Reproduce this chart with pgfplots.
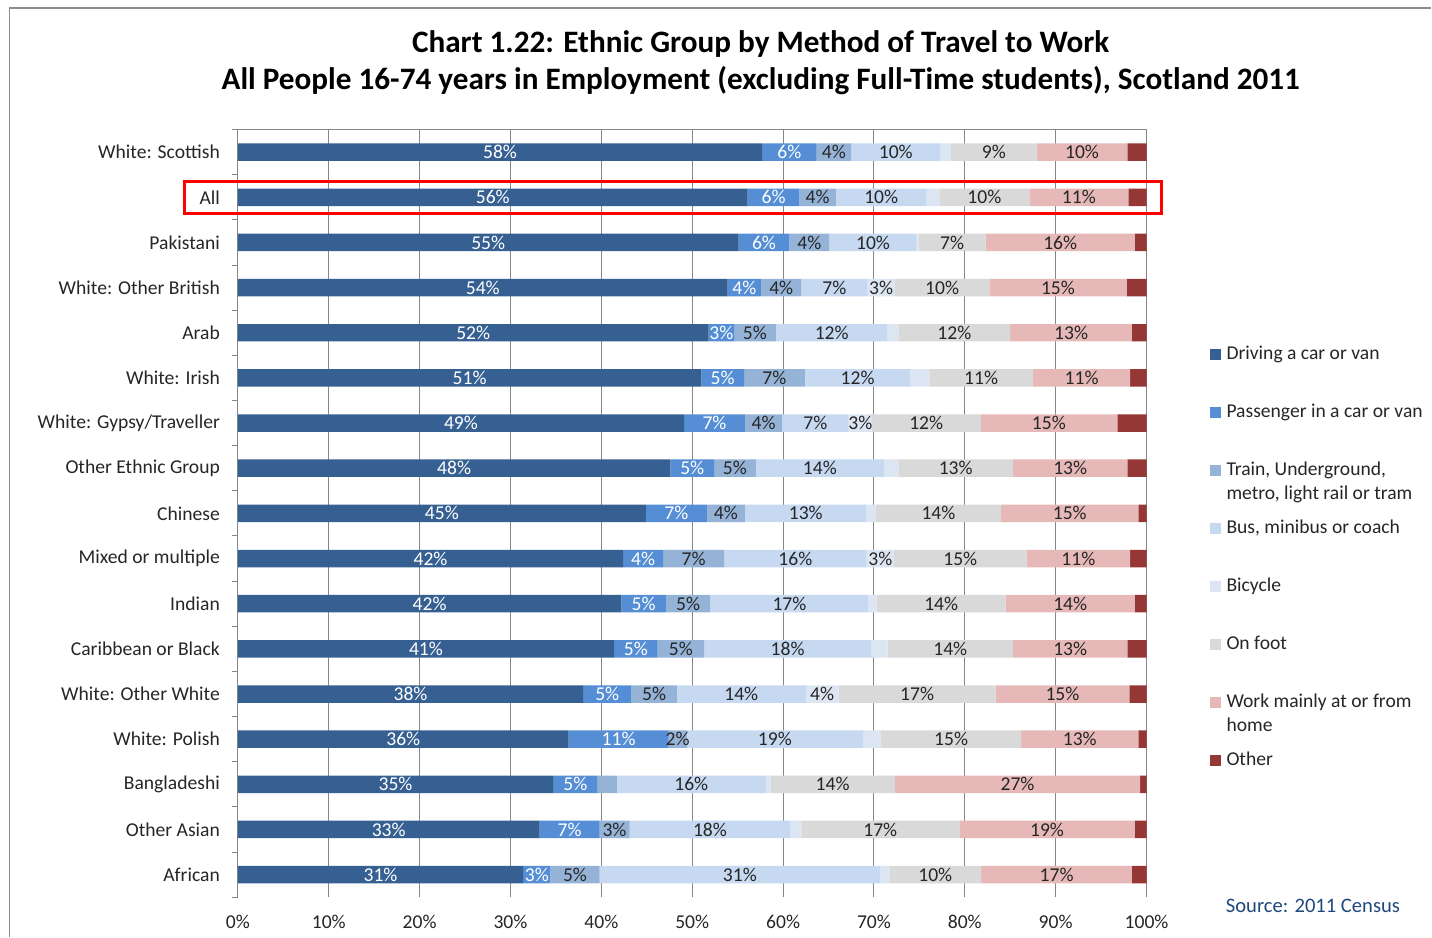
\documentclass[border=0pt]{standalone}
\usepackage{pgfplots}
\pgfplotsset{compat=1.18}
\usepackage{pgfplotstable}
\usepackage{fontspec}
\setmainfont{Carlito}
\definecolor{cDrv}{RGB}{55,96,146}
\definecolor{cPas}{RGB}{85,142,213}
\definecolor{cTrn}{RGB}{149,179,215}
\definecolor{cBus}{RGB}{198,217,241}
\definecolor{cBic}{RGB}{220,230,242}
\definecolor{cFoot}{RGB}{217,217,217}
\definecolor{cHome}{RGB}{230,185,184}
\definecolor{cOth}{RGB}{149,55,53}
\definecolor{cSrc}{RGB}{31,73,125}
\definecolor{cGrid}{RGB}{134,134,134}

% y: 16 = White: Scottish (top) ... 0 = African (bottom)
\pgfplotstableread{
y  drv  pas  trn trnL bus  bic bicL foot home oth one
16 57.7 6.0  3.8 1    9.8  1.2 0    9.4  10.0 2.1 1
15 56.1 5.7  4.0 1    10.0 1.4 0    9.9  10.9 2.0 1
14 55.1 5.6  4.4 1    9.6  0.2 0    7.4  16.4 1.3 1
13 53.9 3.7  4.4 1    7.3  3.0 1    10.4 15.1 2.2 1
12 51.8 2.8  4.6 1    12.3 1.2 0    12.3 13.4 1.6 1
11 51.0 4.7  6.7 1    11.6 2.1 0    11.4 10.7 1.8 1
10 49.1 6.7  4.1 1    7.3  2.6 1    11.9 15.1 3.2 1
9  47.6 4.8  4.6 1    14.1 1.6 0    12.6 12.6 2.1 1
8  44.9 6.7  4.2 1    13.4 1.0 0    13.8 15.1 0.9 1
7  42.4 4.4  6.7 1    15.7 3.0 1    14.6 11.4 1.8 1
6  42.2 4.9  4.9 1    17.4 0.9 0    14.2 14.2 1.3 1
5  41.4 4.8  5.1 1    18.4 1.8 0    13.8 12.6 2.1 1
4  38.0 5.3  5.0 1    14.2 3.6 1    17.3 14.7 1.9 1
3  36.4 11.0 2.0 1    19.4 2.0 0    15.4 12.9 0.9 1
2  34.7 4.9  2.1 0    16.4 0.5 0    13.7 27.0 0.7 1
1  33.2 6.6  3.3 1    17.7 1.2 0    17.4 19.3 1.3 1
0  31.4 3.0  5.4 1    30.9 1.0 0    10.1 16.6 1.6 1
}\data

\pgfplotsset{
  lab/.style={point meta=explicit,
    visualization depends on={\thisrow{#1} \as \lbl},
    nodes near coords={\ifdim\lbl pt>0.5pt \pgfmathprintnumber[fixed,precision=0,assume math mode=true]{\pgfplotspointmeta}\%\fi},
    every node near coord/.append style={font=\fontsize{9.8}{11}\selectfont}},
  wlab/.style={every node near coord/.append style={text=white}},
  blab/.style={every node near coord/.append style={text=black!85}},
}

\begin{document}
\begin{tikzpicture}[x=1pt,y=1pt]
\fill[white] (0,0) rectangle (716,468.5);
\draw[black!45, line width=0.6pt] (4.75,0) -- (4.75,464.5) -- (716,464.5);
\node[font=\fontsize{15.6}{18}\selectfont\bfseries] at (380.5,446.5) {Chart 1.22: Ethnic Group by Method of Travel to Work};
\node[font=\fontsize{15.6}{18}\selectfont\bfseries] at (380.5,428) {All People 16-74 years in Employment (excluding Full-Time students), Scotland 2011};
\node[anchor=west, inner sep=0pt, font=\fontsize{10.3}{12}\selectfont, text=cSrc] at (613,15.5) {Source: 2011 Census};
\begin{axis}[
  at={(119pt,19.7pt)}, anchor=south west,
  width=454.5pt, height=384pt, scale only axis,
  xbar stacked, bar width=8.75pt,
  xmin=0, xmax=100, ymin=-0.5, ymax=16.5,
  xtick={0,10,...,100},
  xticklabels={0\%,10\%,20\%,30\%,40\%,50\%,60\%,70\%,80\%,90\%,100\%},
  ytick={0,...,16},
  yticklabels={African,Other Asian,Bangladeshi,White: Polish,White: Other White,Caribbean or Black,Indian,Mixed or multiple,Chinese,Other Ethnic Group,White: Gypsy/Traveller,White: Irish,Arab,White: Other British,Pakistani,All,White: Scottish},
  major tick length=0pt, tick pos=left,
  xmajorgrids, grid style={draw=cGrid, line width=0.5pt},
  axis line style={draw=none},
  tick label style={font=\fontsize{9.8}{11}\selectfont, text=black!85},
  yticklabel style={xshift=-5.5pt},
  xticklabel style={yshift=-5.5pt},
  extra y ticks={-0.5,0.5,...,16.5}, extra y tick labels={},
  extra y tick style={major tick length=3pt, tick align=outside, tick style={draw=cGrid, line width=0.5pt}},
  clip=false,
  legend style={at={(1.0693,0.7143)}, anchor=north west, draw=none, fill=none, inner sep=0pt,
    row sep=22.2pt, font=\fontsize{9.8}{12}\selectfont, text=black!85,
    cells={anchor=base west}, nodes={inner ysep=0pt, inner xsep=3pt}},
  legend image code/.code={\fill[#1, draw=none] (0pt,0pt) rectangle (5.3pt,5.3pt);},
]
\addplot[forget plot, fill=cDrv, draw=none, lab=one, wlab] table[x=drv,y=y,meta=drv]{\data};
\addplot[forget plot, fill=cPas, draw=none, lab=one, wlab] table[x=pas,y=y,meta=pas]{\data};
\addplot[forget plot, fill=cTrn, draw=none, lab=trnL, blab] table[x=trn,y=y,meta=trn]{\data};
\addplot[forget plot, fill=cBus, draw=none, lab=one, blab] table[x=bus,y=y,meta=bus]{\data};
\addplot[forget plot, fill=cBic, draw=none, lab=bicL, blab] table[x=bic,y=y,meta=bic]{\data};
\addplot[forget plot, fill=cFoot, draw=none, lab=one, blab] table[x=foot,y=y,meta=foot]{\data};
\addplot[forget plot, fill=cHome, draw=none, lab=one, blab] table[x=home,y=y,meta=home]{\data};
\addplot[forget plot, fill=cOth, draw=none] table[x=oth,y=y]{\data};

\addlegendimage{fill=cDrv, draw=none}
\addlegendentry{\smash{Driving a car or van}}
\addlegendimage{fill=cPas, draw=none}
\addlegendentry{\smash{Passenger in a car or van}}
\addlegendimage{fill=cTrn, draw=none}
\addlegendentry{\smash{\vtop{\hbox{Train, Underground,}\hbox{metro, light rail or tram}}}}
\addlegendimage{fill=cBus, draw=none}
\addlegendentry{\smash{Bus, minibus or coach}}
\addlegendimage{fill=cBic, draw=none}
\addlegendentry{\smash{Bicycle}}
\addlegendimage{fill=cFoot, draw=none}
\addlegendentry{\smash{On foot}}
\addlegendimage{fill=cHome, draw=none}
\addlegendentry{\smash{\vtop{\hbox{Work mainly at or from}\hbox{home}}}}
\addlegendimage{fill=cOth, draw=none}
\addlegendentry{\smash{Other}}

\draw[cGrid, line width=0.5pt] (axis cs:0,16.5) -- (axis cs:100,16.5);
\draw[red, line width=1.5pt] (axis cs:-5.83,14.646) rectangle (axis cs:101.65,15.354);
\end{axis}
\end{tikzpicture}
\end{document}
